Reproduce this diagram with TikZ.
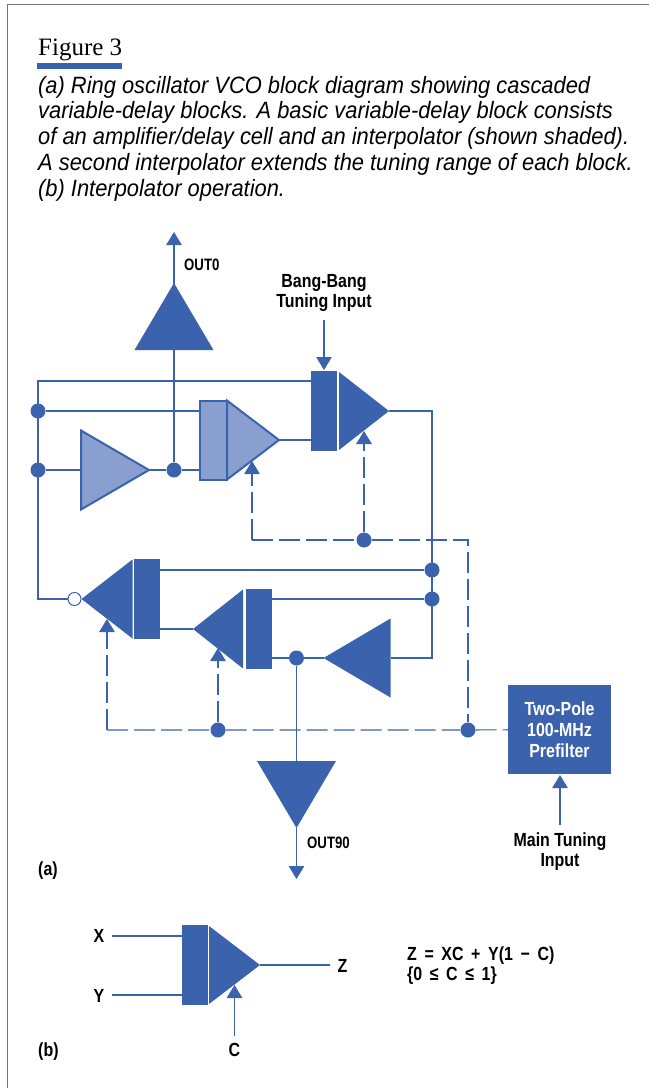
\documentclass[tikz,border=0pt]{standalone}
\usepackage{fontspec}
\setmainfont{Liberation Sans}
\newfontfamily\titlefont{Liberation Serif}
\newfontfamily\capfont[FakeStretch=.927]{Liberation Sans}
\newfontfamily\labfont[FakeStretch=.80]{Liberation Sans}
\newfontfamily\bigfont[FakeStretch=.84]{Liberation Sans}
\usetikzlibrary{arrows.meta,shapes.geometric}
\definecolor{sigblue}{HTML}{3B62AD}
\definecolor{shade}{HTML}{889FD0}
\definecolor{frame}{HTML}{777777}

\tikzset{
  wire/.style={draw=sigblue, line width=1.1pt},
  ctrl/.style={wire, dash pattern=on 21pt off 6pt},
  sig/.style={-{Triangle[length=13pt,width=15.5pt,fill=sigblue]}},
  dot/.style={circle, fill=sigblue, inner sep=0pt, minimum size=15pt},
  opendot/.style={circle, draw=sigblue, fill=white, line width=1pt, inner sep=0pt, minimum size=13pt},
  block/.style={rectangle, fill=sigblue, inner sep=0pt, outer sep=0pt, minimum width=26pt, minimum height=80pt},
  amp/.style 2 args={isosceles triangle, isosceles triangle stretches, fill=sigblue, anchor=apex,
    inner sep=0pt, outer sep=0pt, minimum width=#2, minimum height=#1},
  shaded/.style={fill=shade, draw=sigblue, line width=2pt},
  lab/.style={font=\labfont\bfseries\fontsize{16.5}{20.5}\selectfont, align=center, inner sep=0pt, text=black},
  bigl/.style={lab, font=\bigfont\bfseries\fontsize{19}{20.5}\selectfont},
}

\begin{document}
\begin{tikzpicture}[x=1pt,y=-1pt]
\useasboundingbox (0,0) rectangle (649,1088);

% Page frame and heading
\draw [frame, line width=1.6pt] (7.5,1088) -- (7.5,4.5) -- (649,4.5);
\node (title) at (38,50) [anchor=west, inner sep=0pt, font=\titlefont\fontsize{25}{28}\selectfont] {Figure 3};
\fill [sigblue] (37,63) rectangle (122,69);
\node (caption) at (38,138.5) [anchor=west, align=left, inner sep=0pt, font=\capfont\itshape\fontsize{23.6}{25.7}\selectfont]
  {\frenchspacing (a) Ring oscillator VCO block diagram showing cascaded\\
   variable-delay blocks. A basic variable-delay block consists\\
   of an amplifier/delay cell and an interpolator (shown shaded).\\
   A second interpolator extends the tuning range of each block.\\
   (b) Interpolator operation.};

% Junction dots
\foreach \name/\x/\y in {dA/38/411, dB/38/470, dC/174/470, dD/364/540, dE/432/570, dF/432/599,
                         dG/296.5/658, dH/218/730, dI/468/730} {
  \node (\name) at (\x,\y) [dot] {};
}
\node (inv) at (74.5,599) [opendot] {};

% Blocks
\node (blkA) at (323.5,410.5) [block] {};
\node (blkB) at (213,440) [block, shaded, minimum width=27pt, minimum height=79pt] {};
\node (blkC) at (147,599) [block] {};
\node (blkD) at (258.5,629) [block] {};
\node (blkE) at (195,965) [block] {};

% Amplifiers
\node (ampA) at (389,411) [amp={50pt}{78pt}] {};
\node (ampB) at (279,440) [amp={52pt}{79pt}, shaded] {};
\node (ampC) at (149,470) [amp={68pt}{79pt}, shaded] {};
\node (ampD) at (174,283) [amp={67pt}{79pt}, shape border rotate=90] {};
\node (ampE) at (81.5,599) [amp={51pt}{79pt}, shape border rotate=180] {};
\node (ampF) at (193,629) [amp={50pt}{79pt}, shape border rotate=180] {};
\node (ampG) at (323.5,658) [amp={67pt}{79pt}, shape border rotate=180] {};
\node (ampH) at (296.5,828) [amp={67pt}{79pt}, shape border rotate=270] {};
\node (ampI) at (260,965) [amp={51pt}{78pt}] {};

% Prefilter
\node (pre) at (559.5,729.5) [rectangle, fill=sigblue, inner sep=0pt, minimum width=103pt, minimum height=89pt,
  font=\bigfont\bfseries\fontsize{19}{21}\selectfont, text=white, align=center] {Two-Pole\\100-MHz\\Prefilter};

% Free ends and corners
\coordinate (outA) at (174,232);
\coordinate (bangIn) at (324,320);
\coordinate (bangTip) at (324,370);
\coordinate (topIn) at (311,381);
\coordinate (corTop) at (38,381);
\coordinate (corBot) at (38,599);
\coordinate (corOutT) at (432,411);
\coordinate (corOutB) at (432,658);
\coordinate (tipA) at (252,461);
\coordinate (tipB) at (364,431);
\coordinate (corA) at (252,540);
\coordinate (corB) at (468,540);
\coordinate (tipC) at (107,619);
\coordinate (corC) at (107,730);
\coordinate (tipD) at (218,648);
\coordinate (outB) at (296.5,879);
\coordinate (mainIn) at (560,825);
\coordinate (mainTip) at (560,775);
\coordinate (inX) at (112,936);
\coordinate (inY) at (112,995);
\coordinate (outZ) at (330,965);
\coordinate (inC) at (234.5,1036);
\coordinate (tipE) at (234.5,985);

% Solid wires
\draw [wire, sig] (dC) -- (outA);
\draw [wire, sig] (bangIn) -- (bangTip);
\draw [wire] (topIn) -- (corTop) -- (corBot) -- (inv);
\draw [wire] (dA) -- (blkB.west |- dA);
\draw [wire] (dB) -- (ampC.lower side);
\draw [wire] (ampC.apex) -- (dC) -- (blkB.west |- dC);
\draw [wire] (ampB.apex) -- (blkA.west |- ampB.apex);
\draw [wire] (ampA.apex) -- (corOutT) -- (corOutB) -- (ampG.lower side);
\draw [wire] (blkC.east |- dE) -- (dE);
\draw [wire] (blkD.east |- dF) -- (dF);
\draw [wire] (blkC.east |- ampF.apex) -- (ampF.apex);
\draw [wire] (blkD.east |- dG) -- (dG) -- (ampG.apex);
\draw [wire] (dG) -- (ampH.lower side);
\draw [wire, sig] (ampH.apex) -- (outB);
\draw [wire, sig] (mainIn) -- (mainTip);

% Control wires
\draw [ctrl, sig] (corA) -- (tipA);
\draw [ctrl] (corA) -- (dD) -- (corB) -- (dI);
\draw [ctrl, sig] (dD) -- (tipB);
\draw [ctrl, sig] (corC) -- (tipC);
\draw [ctrl] (corC) -- (dH) -- (dI) -- (pre);
\draw [ctrl, sig] (dH) -- (tipD);

% Interpolator
\draw [wire] (inX) -- (blkE.west |- inX);
\draw [wire] (inY) -- (blkE.west |- inY);
\draw [wire] (ampI.apex) -- (outZ);
\draw [wire, sig] (inC) -- (tipE);

% Labels
\node (lOutA) at (184,265) [lab, anchor=west] {OUT0};
\node (lBang) at (324,293) [bigl] {Bang-Bang\\Tuning Input};
\node (lOutB) at (307,843) [lab, anchor=west] {OUT90};
\node (lMain) at (560,851.5) [bigl] {Main Tuning\\Input};
\node (lPartA) at (38,870.5) [bigl, anchor=west] {(a)};
\node (lPartB) at (38,1051.5) [bigl, anchor=west] {(b)};
\node (lX) at (99,936) [bigl] {X};
\node (lY) at (99,996) [bigl] {Y};
\node (lZ) at (342.5,966) [bigl] {Z};
\node (lC) at (234.5,1050) [bigl] {C};
\node (lEq) at (407,965.5) [bigl, anchor=west, align=left] {Z\, =\, XC\, +\, Y(1\, −\, C)\\\{0\, ≤\, C\, ≤\, 1\}};

\end{tikzpicture}
\end{document}
